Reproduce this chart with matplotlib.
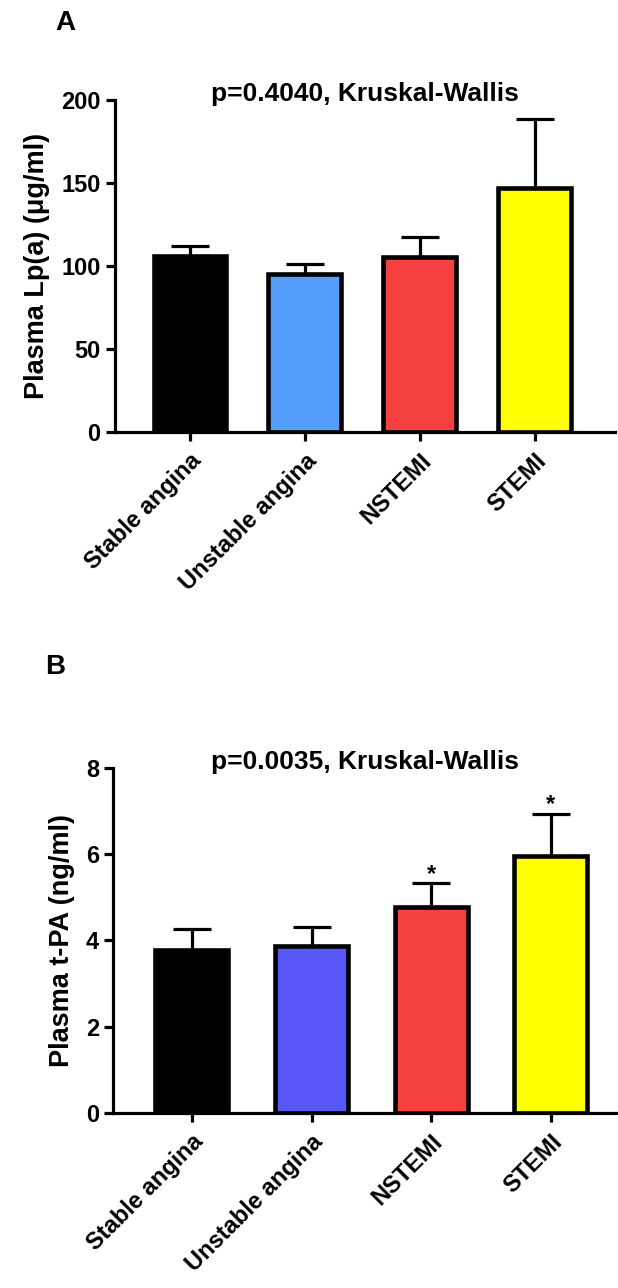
import matplotlib
matplotlib.use("Agg")
from matplotlib import pyplot as plt

plt.rcParams['font.family'] = ['Liberation Sans', 'DejaVu Sans']
plt.rcParams['font.weight'] = 'bold'

groups = ["Stable angina", "Unstable angina", "NSTEMI", "STEMI"]

# panel A - Lp(a), ug/ml
lpa_mean = [106, 95, 105.5, 147]
lpa_err = [6, 6, 12, 41.5]
lpa_colors = ["#000000", "#559EFC", "#F74141", "#FFFF00"]

# panel B - t-PA, ng/ml
tpa_mean = [3.77, 3.86, 4.77, 5.95]
tpa_err = [0.5, 0.46, 0.55, 0.99]
tpa_colors = ["#000000", "#5858F8", "#F74141", "#FFFF00"]
tpa_stars = ["", "", "*", "*"]


def bar_panel(ax, means, errs, colors, ylim, yticks, xlim, width, ylabel, title, stars=None):
    x = list(range(len(means)))
    ax.bar(x, means, width=width, color=colors, edgecolor="black", linewidth=3.3, zorder=2)
    ax.errorbar(x, means, yerr=[[0] * len(errs), errs], fmt="none", ecolor="black",
                elinewidth=2.3, capsize=14, capthick=2.3, zorder=1)
    if stars is not None:
        for xi, m, e, s in zip(x, means, errs, stars):
            if s:
                ax.annotate(s, (xi, m + e), xytext=(0, 2), textcoords="offset points",
                            ha="center", va="baseline", fontsize=17, fontweight="bold")
    ax.set_ylim(*ylim)
    ax.set_yticks(yticks)
    ax.set_xlim(*xlim)
    ax.set_xticks(x)
    ax.set_xticklabels(groups, rotation=45, ha="right", rotation_mode="anchor",
                       fontsize=17, fontweight="bold")
    ax.set_ylabel(ylabel, fontsize=19.5, fontweight="bold", labelpad=8)
    ax.annotate(title, xy=(0.5, 1), xycoords="axes fraction", xytext=(0, -1),
                textcoords="offset points", ha="center", va="baseline",
                fontsize=19, fontweight="bold", annotation_clip=False)
    for side in ["top", "right"]:
        ax.spines[side].set_visible(False)
    for side in ["left", "bottom"]:
        ax.spines[side].set_linewidth(2.3)
    ax.tick_params(axis="both", width=2.3, length=6.5, labelsize=17)
    ax.tick_params(axis="x", pad=6)
    for lab in ax.get_yticklabels():
        lab.set_fontweight("bold")


fig = plt.figure(figsize=(6.18, 12.88), dpi=100)

axA = fig.add_axes([0.1853, 0.6646, 0.810, 0.2578])
bar_panel(axA, lpa_mean, lpa_err, lpa_colors, (0, 200), [0, 50, 100, 150, 200],
          (-0.657, 3.70), 0.635, "Plasma Lp(a) (μg/ml)", "p=0.4040, Kruskal-Wallis")

axB = fig.add_axes([0.1828, 0.1359, 0.8172, 0.2679])
bar_panel(axB, tpa_mean, tpa_err, tpa_colors, (0, 8), [0, 2, 4, 6, 8],
          (-0.66, 3.56), 0.61, "Plasma t-PA (ng/ml)", "p=0.0035, Kruskal-Wallis",
          stars=tpa_stars)

fig.text(65 / 618, 1 - 23 / 1288, "A", fontsize=20, fontweight="bold", ha="center", va="center")
fig.text(55 / 618, 1 - 667 / 1288, "B", fontsize=20, fontweight="bold", ha="center", va="center")

fig.savefig("out.png", dpi=100)
